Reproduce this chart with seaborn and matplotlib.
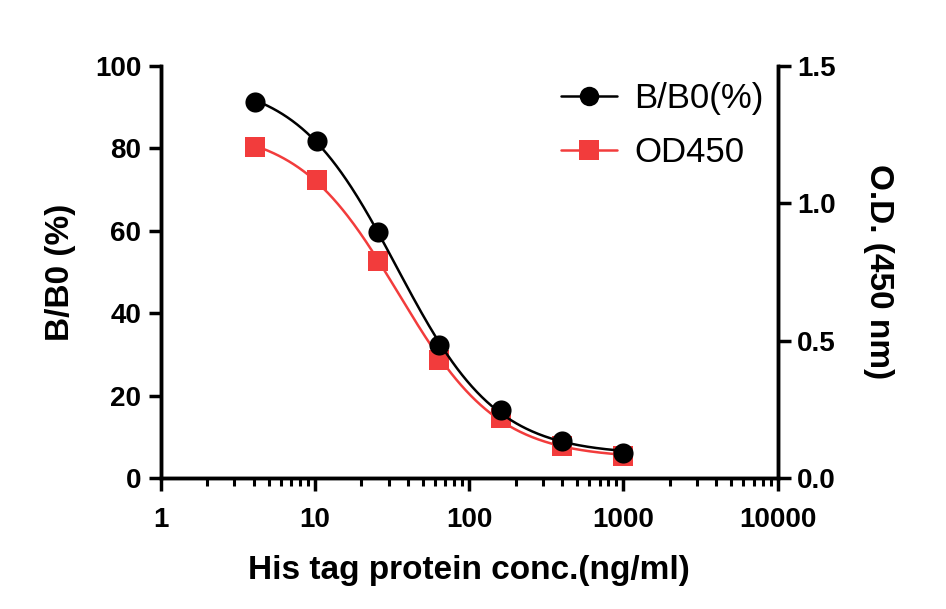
import numpy as np
import pandas as pd
import matplotlib
matplotlib.use("Agg")
import matplotlib.pyplot as plt
from matplotlib.lines import Line2D
from matplotlib.ticker import LogLocator, NullFormatter
import seaborn as sns

# concentrations (ng/ml) and readouts
conc = [4.1, 10.24, 25.6, 64, 160, 400, 1000]
bb0 = [91.3, 81.8, 59.7, 32.3, 16.5, 9.0, 6.1]      # B/B0 (%)
od450 = [1.205, 1.085, 0.79, 0.43, 0.22, 0.117, 0.08]  # O.D. 450 nm

black = "#000000"
red = "#F23C3C"


def fit_4pl(x, y):
    """crude 4PL fit: grid on ec50/hill, linear least squares for top/bottom"""
    lx = np.log10(x)
    y = np.asarray(y)
    best = None
    for lec in np.linspace(0.5, 3.0, 251):
        for h in np.linspace(0.4, 3.0, 131):
            s = 1.0 / (1.0 + 10 ** (h * (lx - lec)))
            A = np.column_stack([np.ones_like(s), s])
            coef, *_ = np.linalg.lstsq(A, y, rcond=None)
            err = np.sum((A @ coef - y) ** 2)
            if best is None or err < best[0]:
                best = (err, lec, h, coef)
    _, lec, h, (bottom, span) = best
    return lambda xx: bottom + span / (1.0 + 10 ** (h * (np.log10(xx) - lec)))


xs = np.logspace(np.log10(conc[0]), np.log10(conc[-1]), 300)
f_b = fit_4pl(conc, bb0)
f_o = fit_4pl(conc, od450)
curve_b = pd.DataFrame({"x": xs, "y": f_b(xs)})
curve_o = pd.DataFrame({"x": xs, "y": f_o(xs)})
pts = pd.DataFrame({"conc": conc, "bb0": bb0, "od": od450})

sns.set_style("ticks")
plt.rcParams["font.family"] = ["Liberation Sans", "DejaVu Sans"]
for key in ["text.color", "axes.labelcolor", "xtick.color", "ytick.color",
            "axes.edgecolor"]:
    plt.rcParams[key] = black

fig = plt.figure(figsize=(9.46, 6.09), dpi=100)
ax = fig.add_axes([0.170, 0.215, 0.652, 0.677])
ax2 = ax.twinx()

sns.lineplot(data=curve_b, x="x", y="y", ax=ax, color=black, lw=1.8, zorder=3)
sns.scatterplot(data=pts, x="conc", y="bb0", ax=ax, color=black, marker="o",
                s=210, edgecolor=black, linewidth=0, zorder=4)
sns.lineplot(data=curve_o, x="x", y="y", ax=ax2, color=red, lw=1.8, zorder=3)
sns.scatterplot(data=pts, x="conc", y="od", ax=ax2, color=red, marker="s",
                s=220, edgecolor=red, linewidth=0, zorder=4)

ax.set_zorder(ax2.get_zorder() + 1)
ax.patch.set_visible(False)

ax.set_xscale("log")
ax.set_xlim(1, 10000)
ax.set_ylim(0, 100)
ax2.set_ylim(0, 1.5)
ax.set_xticks([1, 10, 100, 1000, 10000])
ax.set_xticklabels(["1", "10", "100", "1000", "10000"])
ax.xaxis.set_minor_locator(LogLocator(base=10, subs=np.arange(2, 10)))
ax.xaxis.set_minor_formatter(NullFormatter())
ax.set_yticks([0, 20, 40, 60, 80, 100])
ax2.set_yticks([0.0, 0.5, 1.0, 1.5])
ax2.set_yticklabels(["0.0", "0.5", "1.0", "1.5"])

for a in (ax, ax2):
    for sp in a.spines.values():
        sp.set_linewidth(2.5)
        sp.set_color(black)
    a.spines["top"].set_visible(False)
    a.tick_params(which="major", direction="out", length=9, width=2.5,
                  labelsize=20, colors=black, pad=5)
    a.tick_params(which="minor", direction="out", length=6, width=2.2,
                  colors=black)
    for lab in a.get_xticklabels() + a.get_yticklabels():
        lab.set_fontweight("bold")
ax.tick_params(axis="x", which="major", pad=12)

ax.set_xlabel("His tag protein conc.(ng/ml)", fontsize=24, fontweight="bold",
              labelpad=16)
ax.set_ylabel("B/B0 (%)", fontsize=24, fontweight="bold", labelpad=14)
ax2.set_ylabel("O.D. (450 nm)", fontsize=24, fontweight="bold", rotation=270,
               labelpad=42)
ax2.set_xlabel("")

handles = [
    Line2D([], [], color=black, lw=1.8, marker="o", markersize=14,
           markeredgewidth=0),
    Line2D([], [], color=red, lw=1.8, marker="s", markersize=14,
           markeredgewidth=0),
]
ax.legend(handles, ["B/B0(%)", "OD450"], loc="upper right", frameon=False,
          fontsize=25, handlelength=1.6, handletextpad=0.5,
          borderaxespad=0.0, bbox_to_anchor=(1.0, 0.995), labelspacing=0.62)

fig.savefig("out.png", dpi=100)
